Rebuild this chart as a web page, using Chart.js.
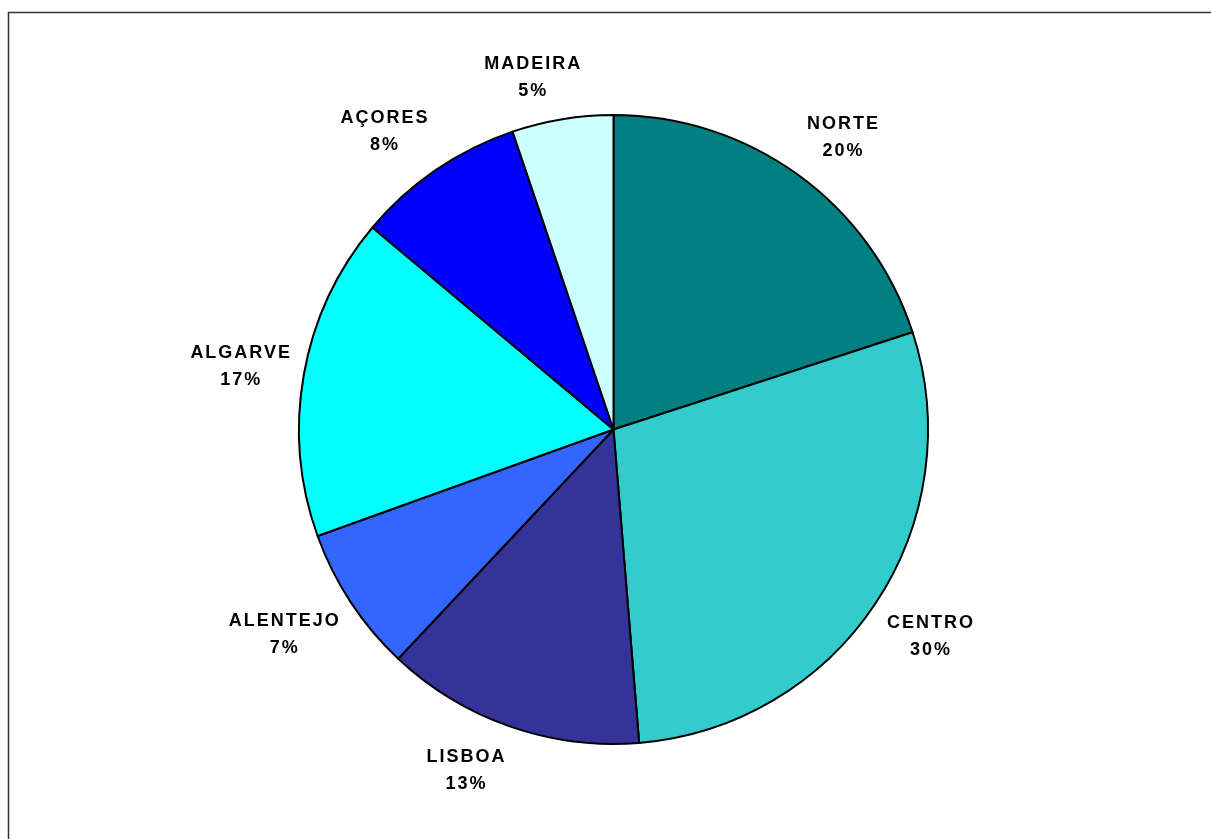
<!DOCTYPE html>
<html>
<head>
<meta charset="utf-8">
<script src="https://cdn.jsdelivr.net/npm/chart.js@4.4.1/dist/chart.umd.min.js"></script>
<style>
  html, body { margin: 0; padding: 0; background: #ffffff; }
  #wrap { width: 1211px; height: 839px; position: relative; }
</style>
</head>
<body>
<div id="wrap"><canvas id="c" width="1211" height="839"></canvas></div>
<script>
const categories = ['NORTE', 'CENTRO', 'LISBOA', 'ALENTEJO', 'ALGARVE', 'AÇORES', 'MADEIRA'];
const shares = [20.0, 28.7, 13.3, 7.5, 16.6, 8.7, 5.2];
const pctLabels = ['20%', '30%', '13%', '7%', '17%', '8%', '5%'];
const sliceColors = ['#008080', '#33CCCC', '#333399', '#3366FF', '#00FFFF', '#0000FF', '#CCFFFF'];

const framePlugin = {
  id: 'frame',
  beforeDraw(chart) {
    const ctx = chart.ctx;
    ctx.save();
    ctx.fillStyle = '#ffffff';
    ctx.fillRect(0, 0, chart.width, chart.height);
    ctx.strokeStyle = '#333333';
    ctx.lineWidth = 1.5;
    ctx.beginPath();
    ctx.moveTo(8.5, chart.height + 5);
    ctx.lineTo(8.5, 12.5);
    ctx.lineTo(chart.width + 5, 12.5);
    ctx.stroke();
    ctx.restore();
  }
};

const clamp1 = v => Math.max(-1, Math.min(1, v));

const labelPlugin = {
  id: 'sliceLabels',
  afterDatasetsDraw(chart) {
    const ctx = chart.ctx;
    const meta = chart.getDatasetMeta(0);
    ctx.save();
    ctx.fillStyle = '#000000';
    ctx.font = 'bold 18px "Liberation Sans", Arial, sans-serif';
    if ('letterSpacing' in ctx) ctx.letterSpacing = '2px';
    ctx.textAlign = 'center';
    ctx.textBaseline = 'alphabetic';
    const lineGap = 27, capH = 13, blockH = lineGap + capH;
    meta.data.forEach((arc, i) => {
      const p = arc.getProps(['x', 'y', 'startAngle', 'endAngle', 'outerRadius'], true);
      const mid = (p.startAngle + p.endAngle) / 2;
      const dx = Math.cos(mid), dy = Math.sin(mid);
      const ax = p.x + dx * (p.outerRadius + 13);
      const ay = p.y + dy * (p.outerRadius + 24);
      const w = Math.max(ctx.measureText(categories[i]).width, ctx.measureText(pctLabels[i]).width);
      const cx = ax + clamp1(dx * 3.5) * w / 2 + 1;
      const cy = ay + clamp1(dy * 1.6) * blockH / 2;
      ctx.fillText(categories[i], cx, cy - lineGap / 2 + capH / 2);
      ctx.fillText(pctLabels[i], cx, cy + lineGap / 2 + capH / 2);
    });
    ctx.restore();
  }
};

new Chart(document.getElementById('c'), {
  type: 'pie',
  data: {
    labels: categories,
    datasets: [{
      data: shares,
      backgroundColor: sliceColors,
      borderColor: '#000000',
      borderWidth: 2
    }]
  },
  options: {
    responsive: false,
    animation: false,
    layout: { padding: { left: 298, top: 114, right: 282, bottom: 94 } },
    plugins: {
      legend: { display: false },
      tooltip: { enabled: false }
    }
  },
  plugins: [framePlugin, labelPlugin]
});
</script>
</body>
</html>
